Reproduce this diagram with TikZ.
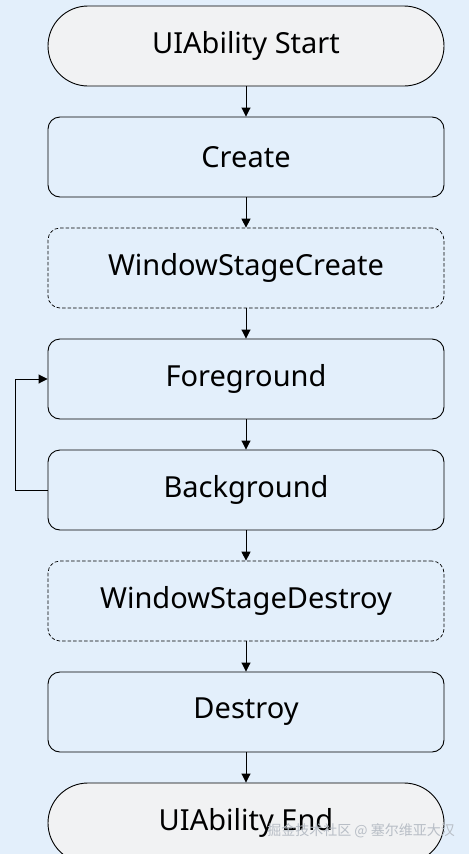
\documentclass[tikz,border=0pt]{standalone}
\usepackage{fontspec}
\setmainfont{Noto Sans}
\newfontfamily\cjk{Noto Sans CJK SC}
\usetikzlibrary{arrows.meta}
\definecolor{bgc}{HTML}{E3EFFB}
\definecolor{termc}{HTML}{F1F2F3}
\definecolor{wmc}{HTML}{B8BEC6}
\tikzset{
  x=1pt, y=-1pt,
  base/.style={minimum width=396pt, minimum height=80pt, draw=black, line width=0.9pt, inner sep=0pt, font=\fontsize{29}{34}\selectfont},
  term/.style={base, rounded corners=40pt, fill=termc},
  stepbox/.style={base, rounded corners=12pt, fill=bgc},
  dbox/.style={stepbox, dash pattern=on 3.5pt off 2pt, line width=0.7pt},
  arr/.style={-{Triangle[length=9pt,width=9pt]}, line width=0.9pt},
}
\begin{document}
\begin{tikzpicture}
\path[fill=bgc] (0,0) rectangle (469,854);
\useasboundingbox (0,0) rectangle (469,854);
\begin{scope}
\clip (0,0) rectangle (469,854);
\node[term] (start) at (246,46) {UIAbility Start};
\node[stepbox] (create) at (246,157) {Create};
\node[dbox] (wsc) at (246,268) {WindowStageCreate};
\node[stepbox] (fg) at (246,379) {Foreground};
\node[stepbox] (bg) at (246,490) {Background};
\node[dbox] (wsd) at (246,601) {WindowStageDestroy};
\node[stepbox] (destroy) at (246,712) {Destroy};
\node[term] (end) at (246,823) {UIAbility End};
\draw[arr] (start) -- (create);
\draw[arr] (create) -- (wsc);
\draw[arr] (wsc) -- (fg);
\draw[arr] (fg) -- (bg);
\draw[arr] (bg) -- (wsd);
\draw[arr] (wsd) -- (destroy);
\draw[arr] (destroy) -- (end);
\coordinate (lb) at (15,490);
\coordinate (lt) at (15,379);
\draw[arr] (bg.west) -- (lb) -- (lt) -- (fg.west);
\node[anchor=east, text=wmc, font=\cjk\fontsize{14}{16}\selectfont, inner sep=0pt] (wm) at (455,831) {掘金技术社区 @ 塞尔维亚大汉};
\end{scope}
\end{tikzpicture}
\end{document}
